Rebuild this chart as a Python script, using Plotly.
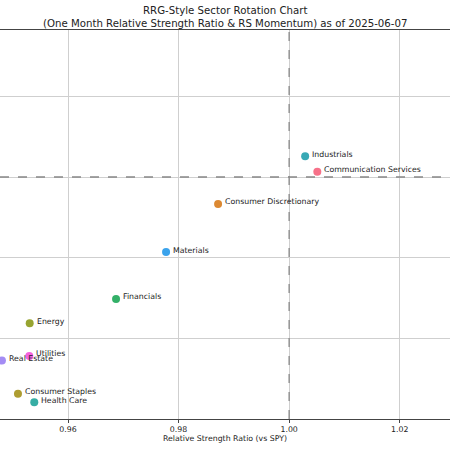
import plotly.graph_objects as go

sectors = ["Industrials", "Communication Services", "Consumer Discretionary", "Materials",
           "Financials", "Energy", "Utilities", "Real Estate", "Consumer Staples", "Health Care"]
rs_ratio = [1.0029, 1.0051, 0.98715, 0.97774, 0.96869, 0.95307, 0.95300, 0.94805, 0.95095, 0.95390]
rs_momentum = [100.255, 100.065, 99.667, 99.074, 98.494, 98.195, 97.79, 97.735, 97.325, 97.22]
colors = ["#38a9b5", "#f77189", "#dc8932", "#3ba3ec", "#33b068", "#97a431",
          "#f561dd", "#a48cf4", "#ae9d31", "#36ada4"]

x_ticks = [0.96, 0.98, 1.00, 1.02]
x_tick_text = ["0.96", "0.98", "1.00", "1.02"]
y_grid = [98, 99, 100, 101]
title_text = "RRG-Style Sector Rotation Chart<br>(One Month Relative Strength Ratio & RS Momentum) as of 2025-06-07"

fig = go.Figure()
fig.add_trace(go.Scatter(
    x=rs_ratio, y=rs_momentum, mode="markers",
    marker=dict(size=8, color=colors, line=dict(width=0)),
    showlegend=False, cliponaxis=False,
))

for s, x, y in zip(sectors, rs_ratio, rs_momentum):
    fig.add_annotation(x=x, y=y, text=s, showarrow=False, xanchor="left", yanchor="middle",
                       xshift=5, yshift=2, font=dict(size=7.8, color="#222", family="DejaVu Sans"))

fig.add_annotation(xref="paper", yref="paper", x=0.5, y=1, xanchor="center", yanchor="bottom",
                   yshift=-1, text=title_text, showarrow=False, align="center",
                   font=dict(size=10.2, color="#222", family="DejaVu Sans"))

fig.add_vline(x=1.0, line=dict(color="#888", width=1.3, dash="dash"))
fig.add_hline(y=100, line=dict(color="#888", width=1.3, dash="dash"))

fig.update_layout(
    width=450, height=450,
    margin=dict(l=0, r=0, t=30, b=31),
    paper_bgcolor="white", plot_bgcolor="white",
    font=dict(family="DejaVu Sans", color="#222"),
    xaxis=dict(range=[0.9477, 1.0291], tickvals=x_ticks, ticktext=x_tick_text,
               showgrid=True, gridcolor="#cfcfcf", gridwidth=1, zeroline=False,
               showline=True, linecolor="#444", linewidth=1, mirror=True,
               ticks="outside", ticklen=3, tickcolor="#444", tickfont=dict(size=7.8),
               title=dict(text="Relative Strength Ratio (vs SPY)", font=dict(size=7.8), standoff=2)),
    yaxis=dict(range=[97.012, 101.815], tickvals=y_grid, showticklabels=False,
               showgrid=True, gridcolor="#cfcfcf", gridwidth=1, zeroline=False,
               showline=False, ticks=""),
)

fig.write_html("out.html")
